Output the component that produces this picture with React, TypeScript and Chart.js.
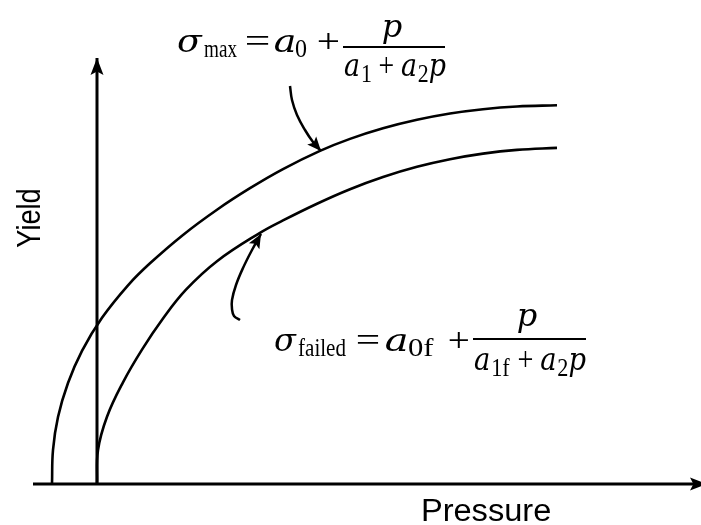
import { useEffect, useRef } from "react";
import { Chart, registerables } from "chart.js";

Chart.register(...registerables);

// Schematic data (pressure / yield in arbitrary units; origin at the axes' crossing)
const outerPressure = [-4.5, -4.4, -3.9, -2.9, -1.5, 0.5, 3.1, 5.3, 8.6, 12.0, 15.3, 18.6, 22.3, 25.3, 28.6, 32.0, 35.3, 38.6, 42.0, 46.0];
const outerYield = [0, 3.4, 6.7, 10.1, 13.32, 16.62, 19.87, 22.07, 24.91, 27.43, 29.58, 31.49, 33.31, 34.51, 35.57, 36.42, 37.05, 37.48, 37.75, 37.87];

const innerPressure = [0, 0.1, 1.0, 2.6, 4.5, 6.6, 8.9, 12.0, 16.3, 18.6, 22.0, 25.3, 28.6, 32.0, 35.3, 38.6, 42.0, 46.0];
const innerYield = [0, 3.4, 6.73, 10.17, 13.44, 16.55, 19.43, 22.28, 25.12, 26.36, 28.03, 29.48, 30.7, 31.72, 32.48, 33.04, 33.41, 33.61];

// callout arrows
const maxArrowX = [19.3, 19.5, 20.0, 20.8, 21.6, 22.4];
const maxArrowY = [39.8, 38.4, 36.9, 35.4, 34.2, 33.3];
const failedArrowX = [14.3, 13.7, 13.5, 13.5, 13.9, 14.6, 15.5, 16.4];
const failedArrowY = [16.4, 16.8, 17.5, 18.4, 19.9, 21.6, 23.4, 25.0];

// axes
const xAxisX = [-6.4, 61.0];
const xAxisY = [0, 0];
const yAxisX = [0, 0];
const yAxisY = [0, 42.6];

const xLabel = "Pressure";
const yLabel = "Yield";

const IT = '"DejaVu Serif"';
const RM = '"Liberation Serif"';

type Run = { t: string; f: string; g?: number; dy?: number };

function toPts(xs: number[], ys: number[]) {
  return xs.map((x, i) => ({ x, y: ys[i] }));
}

function ink(ctx: CanvasRenderingContext2D, text: string, font: string, left: number, right: number, base: number) {
  ctx.font = font;
  const m = ctx.measureText(text);
  const w = m.actualBoundingBoxLeft + m.actualBoundingBoxRight;
  const k = (right - left) / w;
  ctx.save();
  ctx.translate(left, base);
  ctx.scale(k, 1);
  ctx.fillText(text, m.actualBoundingBoxLeft, 0);
  ctx.restore();
}

function group(ctx: CanvasRenderingContext2D, runs: Run[], left: number, right: number, base: number) {
  const ws: number[] = [];
  let total = 0;
  runs.forEach((r, i) => {
    ctx.font = r.f;
    const w = ctx.measureText(r.t).width;
    ws.push(w);
    total += (i > 0 ? r.g || 0 : 0) + w;
  });
  const k = (right - left) / total;
  ctx.save();
  ctx.translate(left, base);
  ctx.scale(k, 1);
  let x = 0;
  runs.forEach((r, i) => {
    if (i > 0) x += r.g || 0;
    ctx.font = r.f;
    ctx.fillText(r.t, x, r.dy || 0);
    x += ws[i];
  });
  ctx.restore();
}

function centered(ctx: CanvasRenderingContext2D, text: string, font: string, cx: number, base: number) {
  ctx.font = font;
  ctx.textAlign = "center";
  ctx.fillText(text, cx, base);
  ctx.textAlign = "left";
}

function head(ctx: CanvasRenderingContext2D, tx: number, ty: number, dx: number, dy: number, L: number, W: number) {
  const n = Math.hypot(dx, dy) || 1;
  const ux = dx / n, uy = dy / n;
  const px = -uy, py = ux;
  const bx = tx - ux * L, by = ty - uy * L;
  ctx.beginPath();
  ctx.moveTo(tx, ty);
  ctx.lineTo(bx + px * W, by + py * W);
  ctx.lineTo(tx - ux * L * 0.8, ty - uy * L * 0.8);
  ctx.lineTo(bx - px * W, by - py * W);
  ctx.closePath();
  ctx.fill();
}

const arrowPlugin = {
  id: "arrowheads",
  afterDatasetsDraw(chart: any) {
    const ctx: CanvasRenderingContext2D = chart.ctx;
    ctx.save();
    ctx.fillStyle = "#000";
    chart.data.datasets.forEach((ds: any, i: number) => {
      if (!ds.arrow) return;
      const pts = chart.getDatasetMeta(i).data;
      const tip = pts[pts.length - 1];
      const prev = pts[pts.length - 2];
      let dx = tip.x - prev.x, dy = tip.y - prev.y;
      if (tip.cp1x !== undefined && Math.hypot(tip.x - tip.cp1x, tip.y - tip.cp1y) > 0.5) {
        dx = tip.x - tip.cp1x;
        dy = tip.y - tip.cp1y;
      }
      head(ctx, tip.x, tip.y, dx, dy, ds.arrow.L, ds.arrow.W);
    });
    ctx.restore();
  },
};

const textPlugin = {
  id: "texts",
  afterDraw(chart: any) {
    const ctx: CanvasRenderingContext2D = chart.ctx;
    ctx.save();
    ctx.fillStyle = "#000";
    ctx.textBaseline = "alphabetic";
    ctx.textAlign = "left";

    const mi = `italic 32px ${IT}`;
    const mr = `33px ${RM}`;
    const sr = `26px ${RM}`;

    // ---- sigma_max formula ----
    ink(ctx, "σ", mi, 177, 203, 52);
    ink(ctx, "max", sr, 204, 237, 57);
    ink(ctx, "=", mr, 246, 268, 52);
    ink(ctx, "a", mi, 275, 294, 52);
    ink(ctx, "0", sr, 295, 307, 57);
    ink(ctx, "+", mr, 318, 338, 52);
    ctx.fillRect(343, 46, 102, 2);
    centered(ctx, "p", mi, 392, 37);
    group(
      ctx,
      [
        { t: "a", f: mi },
        { t: "1", f: sr, g: 1, dy: 6 },
        { t: "+", f: mr, g: 8 },
        { t: "a", f: mi, g: 8 },
        { t: "2", f: sr, g: 1, dy: 6 },
        { t: "p", f: mi, g: 0 },
      ],
      344,
      446,
      76
    );

    // ---- sigma_failed formula ----
    ink(ctx, "σ", mi, 274, 297, 351);
    ink(ctx, "failed", sr, 298, 346, 356);
    ink(ctx, "=", mr, 357, 378, 351);
    ink(ctx, "a", mi, 386, 406, 351);
    ink(ctx, "0f", sr, 408, 434, 356);
    ink(ctx, "+", mr, 449, 468, 351);
    ctx.fillRect(473, 338, 113, 2);
    centered(ctx, "p", mi, 527, 326);
    group(
      ctx,
      [
        { t: "a", f: mi },
        { t: "1f", f: sr, g: 1, dy: 6 },
        { t: "+", f: mr, g: 9 },
        { t: "a", f: mi, g: 8 },
        { t: "2", f: sr, g: 1, dy: 6 },
        { t: "p", f: mi, g: 0 },
      ],
      474,
      586,
      370
    );

    // ---- axis labels ----
    ink(ctx, xLabel, `31px "Liberation Sans"`, 423, 550, 521);

    ctx.save();
    ctx.translate(40, 218);
    ctx.rotate(-Math.PI / 2);
    ctx.scale(0.8, 1);
    ctx.font = `34px "Liberation Sans"`;
    ctx.textAlign = "center";
    ctx.fillText(yLabel, 0, 0);
    ctx.restore();

    ctx.restore();
  },
};

export default function App() {
  const ref = useRef<HTMLCanvasElement>(null);

  useEffect(() => {
    if (!ref.current) return;
    const line = (xs: number[], ys: number[], w: number, extra: any = {}) => ({
      data: toPts(xs, ys),
      showLine: true,
      borderColor: "#000",
      backgroundColor: "#000",
      borderWidth: w,
      pointRadius: 0,
      pointHoverRadius: 0,
      fill: false,
      ...extra,
    });
    const chart = new Chart(ref.current, {
      type: "scatter",
      data: {
        datasets: [
          line(xAxisX, xAxisY, 3, { tension: 0, arrow: { L: 17, W: 6.5 } }),
          line(yAxisX, yAxisY, 3, { tension: 0, arrow: { L: 17, W: 6.5 } }),
          line(outerPressure, outerYield, 2.6, { tension: 0.4 }),
          line(innerPressure, innerYield, 2.6, { tension: 0.4 }),
          line(maxArrowX, maxArrowY, 2.5, { tension: 0.4, arrow: { L: 14, W: 6 } }),
          line(failedArrowX, failedArrowY, 2.5, { tension: 0.4, arrow: { L: 14, W: 6 } }),
        ] as any,
      },
      options: {
        animation: false,
        responsive: false,
        maintainAspectRatio: false,
        events: [],
        layout: { padding: 0 },
        plugins: { legend: { display: false }, tooltip: { enabled: false }, title: { display: false } },
        scales: {
          x: { type: "linear", min: -9.7, max: 60.4, display: false },
          y: { type: "linear", min: -4.1, max: 48.4, display: false },
        },
      },
      plugins: [arrowPlugin, textPlugin],
    });
    return () => chart.destroy();
  }, []);

  return (
    <div style={{ position: "absolute", left: 0, top: 0, width: 701, height: 525, background: "#fff" }}>
      <canvas ref={ref} width={701} height={525} style={{ display: "block" }} />
    </div>
  );
}
